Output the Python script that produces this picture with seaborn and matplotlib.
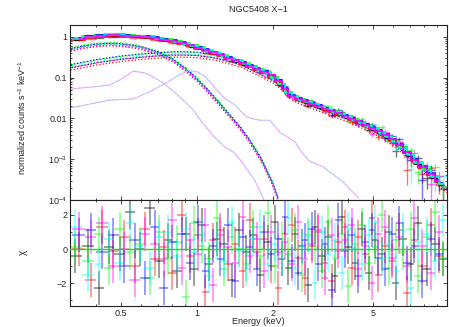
import numpy as np
import matplotlib
matplotlib.use("Agg")
import matplotlib.pyplot as plt
import seaborn as sns
import pandas as pd
from matplotlib.ticker import FixedLocator, FixedFormatter, NullFormatter

# ---------------- data ----------------
# energy grid A (black, green, cyan)
edges_a = [0.31, 0.35, 0.39, 0.43, 0.47, 0.52, 0.57, 0.62, 0.68, 0.74, 0.8, 0.87, 0.94,
           1.01, 1.08, 1.16, 1.24, 1.33, 1.42, 1.52, 1.62, 1.73, 1.85, 1.97, 2.1, 2.24,
           2.38, 2.53, 2.69, 2.86, 3.04, 3.23, 3.43, 3.65, 3.88, 4.12, 4.38, 4.66, 4.95,
           5.26, 5.6, 5.95, 6.35, 6.8, 7.3, 7.85, 8.5, 9.2, 9.8]
centers_a = [0.33, 0.37, 0.41, 0.45, 0.495, 0.545, 0.595, 0.65, 0.71, 0.77, 0.835, 0.905,
             0.975, 1.045, 1.12, 1.2, 1.285, 1.375, 1.47, 1.57, 1.675, 1.79, 1.91, 2.035,
             2.17, 2.31, 2.455, 2.61, 2.775, 2.95, 3.135, 3.33, 3.54, 3.765, 4.0, 4.25,
             4.52, 4.81, 5.1, 5.43, 5.77, 6.15, 6.57, 7.05, 7.57, 8.17, 8.85, 9.5]
model_a = [0.88, 1.0, 1.07, 1.1, 1.1, 1.07, 1.02, 0.97, 0.9, 0.83, 0.76, 0.67,
           0.59, 0.52, 0.45, 0.39, 0.34, 0.29, 0.25, 0.215, 0.185, 0.155, 0.13, 0.1,
           0.068, 0.042, 0.034, 0.029, 0.025, 0.022, 0.019, 0.0165, 0.0145, 0.0125,
           0.0108, 0.0093, 0.0079, 0.0066, 0.0055, 0.0045, 0.0035, 0.0027, 0.0019,
           0.00125, 0.0008, 0.00055, 0.00036, 0.00024]
relerr_a = [0.035, 0.035, 0.035, 0.035, 0.035, 0.035, 0.035, 0.035, 0.035, 0.035, 0.035,
            0.035, 0.035, 0.04, 0.04, 0.04, 0.045, 0.045, 0.05, 0.05, 0.055, 0.055, 0.06,
            0.06, 0.065, 0.07, 0.07, 0.075, 0.08, 0.08, 0.085, 0.09, 0.095, 0.1, 0.105,
            0.11, 0.12, 0.13, 0.14, 0.15, 0.17, 0.19, 0.21, 0.24, 0.27, 0.3, 0.33, 0.35]

# energy grid B (red, blue, magenta)
edges_b = [0.32, 0.36, 0.40, 0.445, 0.49, 0.54, 0.595, 0.65, 0.71, 0.77, 0.835, 0.905,
           0.975, 1.045, 1.12, 1.2, 1.285, 1.375, 1.47, 1.57, 1.675, 1.79, 1.91, 2.035,
           2.17, 2.31, 2.455, 2.61, 2.775, 2.95, 3.135, 3.33, 3.54, 3.765, 4.0, 4.25,
           4.52, 4.81, 5.1, 5.43, 5.77, 6.15, 6.57, 7.05, 7.57, 8.17, 8.85, 9.5]
centers_b = [0.34, 0.38, 0.42, 0.467, 0.515, 0.567, 0.622, 0.68, 0.74, 0.8, 0.87, 0.94,
             1.01, 1.08, 1.16, 1.24, 1.33, 1.42, 1.52, 1.62, 1.73, 1.85, 1.97, 2.1, 2.24,
             2.38, 2.53, 2.69, 2.86, 3.04, 3.23, 3.43, 3.65, 3.88, 4.12, 4.38, 4.66,
             4.95, 5.26, 5.6, 5.95, 6.35, 6.8, 7.3, 7.85, 8.5, 9.17]
model_b = [0.91, 1.02, 1.08, 1.1, 1.09, 1.05, 1.0, 0.94, 0.87, 0.8, 0.72, 0.63, 0.555,
           0.485, 0.42, 0.365, 0.315, 0.27, 0.232, 0.2, 0.17, 0.142, 0.115, 0.085, 0.055,
           0.037, 0.031, 0.027, 0.0235, 0.0205, 0.0178, 0.0155, 0.0135, 0.0116, 0.01,
           0.0086, 0.0072, 0.006, 0.005, 0.004, 0.0031, 0.0023, 0.0015, 0.001, 0.00066,
           0.00045, 0.0003]
relerr_b = [0.035, 0.035, 0.035, 0.035, 0.035, 0.035, 0.035, 0.035, 0.035, 0.035, 0.035,
            0.035, 0.04, 0.04, 0.04, 0.045, 0.045, 0.05, 0.05, 0.055, 0.055, 0.06, 0.06,
            0.065, 0.07, 0.07, 0.075, 0.08, 0.08, 0.085, 0.09, 0.095, 0.1, 0.105, 0.11,
            0.12, 0.13, 0.14, 0.15, 0.16, 0.18, 0.2, 0.23, 0.26, 0.29, 0.32, 0.35]

names = ["black", "red", "green", "blue", "cyan", "magenta"]
colors = ["#000000", "#ff0000", "#00ff00", "#0000ff", "#00ffff", "#ff00ff"]
grid_of = ["a", "b", "a", "b", "a", "b"]
norms = [0.97, 0.92, 1.05, 1.02, 1.0, 0.98]

resid_black = [-0.4, 0.2, -2.3, 0.1, -0.3, 2.2, 0.0, 2.4, -0.7, 0.5, -1.3, 0.9, -1.2, 1.4,
               -0.9, 0.6, 0.3, -1.8, 1.1, -0.2, 0.8, -1.5, 0.4, 1.6, -0.6, -1.1, 0.9, 0.2,
               -2.1, 1.3, -0.4, 0.7, -1.6, 1.9, 0.1, -0.8, 1.2, -1.4, 0.5, -0.3, 1.0, -2.0,
               0.6, -0.9, 1.5, -1.2, 0.3, -0.6]
resid_red = [0.0, -1.8, 1.3, -0.1, 0.7, -1.0, 1.2, -0.6, 0.1, -1.4, 2.0, -0.4, 0.8, -2.5,
             0.5, 1.1, -0.9, 0.3, -1.3, 1.7, -0.2, 0.6, -1.0, -2.3, 0.9, 1.4, -0.5, -1.7,
             0.2, 1.0, -0.8, -1.9, 0.4, 1.3, -1.1, 0.7, -0.3, 1.8, -1.5, 0.2, -0.7, 1.1,
             -2.6, 0.5, -1.0, 1.4, -0.4]
resid_green = [0.1, -0.7, 0.9, -1.1, 1.2, -0.2, 0.3, -1.7, 1.0, -0.5, 0.4, -2.8, 1.5, 0.2,
               -0.6, 1.8, -1.2, 0.7, 0.0, -0.9, 1.3, -0.4, 2.1, -1.0, 0.6, -0.3, 1.1, -1.5,
               0.8, 0.2, -1.3, 1.6, -0.5, 0.9, -2.2, 0.3, 1.4, -0.8, 0.1, 2.0, -1.1, 0.5,
               -0.2, 1.2, -1.6, 0.7, 2.2, -0.5]
resid_blue = [0.8, 1.1, -0.2, 0.8, -1.0, 0.5, -1.7, 1.3, -2.3, 0.4, 0.9, -0.8, 1.6, -1.3,
              0.2, -0.6, 1.4, -1.9, 0.7, 0.1, -1.2, 1.0, -0.3, 0.6, 1.9, -0.7, -1.4, 0.5,
              1.2, -0.9, 0.3, -2.4, 1.7, -0.1, 0.8, -1.6, 0.4, 1.1, -0.5, -1.2, 0.9, 1.5,
              -0.8, 0.2, -1.9, 0.6, -0.3]
resid_cyan = [1.3, -1.5, -0.9, 0.6, -0.8, 1.5, 0.2, -1.1, 0.7, 1.0, -0.4, 1.2, -0.2, 0.9,
              -1.6, 0.4, -0.7, 1.5, -0.1, -1.2, 0.6, 1.3, -0.9, 0.3, -0.5, 1.8, -1.1, 0.1,
              0.7, -2.0, 1.0, -0.3, 0.5, -1.4, 1.2, 0.0, -0.9, 0.8, 1.6, -0.6, 0.3, -1.3,
              1.1, -2.3, 0.4, 0.9, -0.7, 1.7]
resid_magenta = [1.2, 0.7, 1.5, -1.0, 0.0, -1.8, 0.9, 0.3, -0.6, 1.7, -1.1, 0.5, -0.3, 1.4,
                 -2.1, 0.8, 0.1, -0.8, 1.9, -0.4, 0.6, -1.3, 1.0, -0.2, 0.4, -0.9, 1.6,
                 -0.6, 0.3, 1.1, -1.7, 0.8, -0.1, 0.5, 1.4, -1.2, 0.2, -2.0, 0.9, 1.3, -0.5,
                 0.7, -1.0, 1.8, 0.2, -1.4, 1.0]
residuals = [resid_black, resid_red, resid_green, resid_blue, resid_cyan, resid_magenta]

# model components
disk_E = [0.31, 0.35, 0.4, 0.45, 0.5, 0.55, 0.6, 0.7, 0.8, 0.9, 1.0, 1.1, 1.2, 1.3, 1.4,
          1.5, 1.6, 1.8, 2.0, 2.1]
disk_v = [0.52, 0.62, 0.7, 0.73, 0.71, 0.66, 0.6, 0.45, 0.3, 0.18, 0.1, 0.055, 0.03, 0.017,
          0.01, 0.006, 0.0035, 0.0011, 0.00028, 0.00012]
disk_norm = [0.92, 0.82, 1.0, 0.95, 0.9, 0.85]
pl_E = [0.31, 0.35, 0.4, 0.5, 0.6, 0.7, 0.8, 0.9, 1.0, 1.2, 1.5, 2.0, 2.17, 2.31, 2.5, 3.0,
        4.0, 5.0, 6.0, 7.0, 8.0, 9.8]
pl_v = [0.2, 0.23, 0.27, 0.33, 0.37, 0.4, 0.42, 0.42, 0.41, 0.35, 0.24, 0.1, 0.068, 0.042,
        0.032, 0.021, 0.0108, 0.0058, 0.003, 0.0013, 0.0006, 0.0002]
pl_norm = [0.85, 0.75, 1.0, 1.02, 0.9, 0.85]
g1_E = [0.31, 0.33, 0.4, 0.45, 0.5, 0.56, 0.62, 0.67, 0.74, 0.85, 0.97, 1.05, 1.16, 1.3,
        1.4, 1.5, 1.7, 1.85]
g1_v = [0.05, 0.054, 0.06, 0.065, 0.09, 0.144, 0.13, 0.105, 0.072, 0.035, 0.016, 0.008,
        0.0038, 0.0019, 0.0015, 0.0009, 0.0003, 0.0001]
g2_E = [0.31, 0.33, 0.45, 0.56, 0.65, 0.75, 0.85, 0.93, 1.0, 1.09, 1.2, 1.3, 1.41, 1.57,
        1.7, 1.78, 1.95, 2.14, 2.45, 2.6, 2.8, 3.16, 3.8, 4.4]
g2_v = [0.018, 0.019, 0.028, 0.03, 0.045, 0.072, 0.115, 0.15, 0.14, 0.1, 0.05, 0.03, 0.022,
        0.011, 0.0095, 0.009, 0.009, 0.0045, 0.0027, 0.0015, 0.0009, 0.00066, 0.00028,
        0.00011]

# ---------------- styling ----------------
sns.set_theme(style="ticks")
plt.rcParams["font.family"] = ["Liberation Sans", "DejaVu Sans"]
plt.rcParams["mathtext.fontset"] = "custom"
plt.rcParams["mathtext.rm"] = "Liberation Sans"
plt.rcParams["mathtext.it"] = "Liberation Sans:italic"
plt.rcParams["mathtext.bf"] = "Liberation Sans:bold"
FS = 6.5

fig = plt.figure(figsize=(4.49, 3.27), dpi=100)
ax1 = fig.add_axes([70 / 449, 1 - 200 / 327, 377 / 449, 175 / 327])
ax2 = fig.add_axes([70 / 449, 1 - 306 / 327, 377 / 449, 106 / 327], sharex=ax1)

grids = {
    "a": (np.array(centers_a), np.array(edges_a), np.array(model_a), np.array(relerr_a)),
    "b": (np.array(centers_b), np.array(edges_b), np.array(model_b), np.array(relerr_b)),
}

# components (dotted)
for i, c in enumerate(colors):
    ax1.plot(disk_E, np.array(disk_v) * disk_norm[i], color=c, lw=0.9,
             ls=(i % 2, (1, 1.6)), zorder=1)
    ax1.plot(pl_E, np.array(pl_v) * pl_norm[i], color=c, lw=0.9,
             ls=(i % 2, (1, 1.6)), zorder=1)
for gE, gv in [(g1_E, g1_v), (g2_E, g2_v)]:
    ax1.plot(gE, gv, color="#99e6ff", lw=0.6, zorder=1)
    ax1.plot(gE, gv, color="#ff88ff", lw=0.75, ls=(0, (1.5, 1)), zorder=1)

# data + models
for i, c in enumerate(colors):
    E, ed, mod, rel = grids[grid_of[i]]
    r = np.array(residuals[i])
    n = len(r)
    lo = E[:n] - ed[:n]
    hi = ed[1:n + 1] - E[:n]
    m = mod[:n] * norms[i]
    err = m * rel[:n]
    data = np.clip(m + r * err, m * 0.05, None)
    ylo = np.minimum(err, data * 0.9)
    ax1.errorbar(E[:n], data, xerr=[lo, hi], yerr=[ylo, err], fmt="none",
                 ecolor=c, alpha=0.55, elinewidth=1.0, capsize=0, zorder=2)
for i, c in enumerate(colors):
    E, ed, mod, rel = grids[grid_of[i]]
    n = len(residuals[i])
    df = pd.DataFrame({"E": E[:n], "m": mod[:n] * norms[i]})
    sns.lineplot(data=df, x="E", y="m", ax=ax1, color=c, lw=1.1, drawstyle="steps-mid",
                 estimator=None, sort=False, zorder=3)

# residuals
for i, c in enumerate(colors):
    E, ed, mod, rel = grids[grid_of[i]]
    r = np.array(residuals[i])
    n = len(r)
    lo = E[:n] - ed[:n]
    hi = ed[1:n + 1] - E[:n]
    ax2.errorbar(E[:n], r, xerr=[lo, hi], yerr=1.0, fmt="none", ecolor=c,
                 alpha=0.42, elinewidth=1.3, capsize=0)
ax2.axhline(0, color="#00ee00", lw=1.0, zorder=5)

# axes
for ax in (ax1, ax2):
    ax.set_xscale("log")
    ax.set_xlim(0.314, 9.84)
    ax.tick_params(which="both", direction="in", top=True, right=True, labelsize=FS,
                   width=0.6, pad=2)
    ax.tick_params(which="major", length=3.2)
    ax.tick_params(which="minor", length=1.6)
    for s in ax.spines.values():
        s.set_linewidth(0.8)
        s.set_color("#222222")
    ax.set_xlabel("")
    ax.set_ylabel("")

ax1.set_yscale("log")
ax1.set_ylim(1e-4, 1.94)
ax1.yaxis.set_major_locator(FixedLocator([1e-4, 1e-3, 1e-2, 0.1, 1]))
ax1.yaxis.set_major_formatter(FixedFormatter(["$10^{-4}$", "$10^{-3}$", "0.01", "0.1", "1"]))
ax1.yaxis.set_minor_locator(FixedLocator([k * 10.0 ** d for d in range(-4, 1) for k in range(2, 10)]))
ax1.yaxis.set_minor_formatter(NullFormatter())

for ax in (ax1, ax2):
    ax.xaxis.set_major_locator(FixedLocator([0.5, 1, 2, 5]))
    ax.xaxis.set_minor_locator(FixedLocator([0.4, 0.6, 0.7, 0.8, 0.9, 3, 4, 6, 7, 8, 9]))
    ax.xaxis.set_minor_formatter(NullFormatter())
ax2.xaxis.set_major_formatter(FixedFormatter(["0.5", "1", "2", "5"]))
ax1.tick_params(axis="x", labelbottom=False)

ax2.set_ylim(-3.35, 2.88)
ax2.yaxis.set_major_locator(FixedLocator([-2, 0, 2]))
ax2.yaxis.set_major_formatter(FixedFormatter(["\u22122", "0", "2"]))
ax2.yaxis.set_minor_locator(FixedLocator([-3, -1, 1]))

ax1.set_ylabel("normalized counts s$^{-1}$ keV$^{-1}$", fontsize=FS)
ax1.yaxis.set_label_coords(-0.111, 0.47)
ax2.set_ylabel("\u03c7", fontsize=FS + 0.5, rotation=90)
ax2.yaxis.set_label_coords(-0.111, 0.51)
ax2.set_xlabel("Energy (keV)", fontsize=FS)
ax2.xaxis.set_label_coords(0.5, -0.105)
ax1.set_title("NGC5408 X\u22121", fontsize=FS, pad=9)

fig.savefig("out.png", dpi=100)
